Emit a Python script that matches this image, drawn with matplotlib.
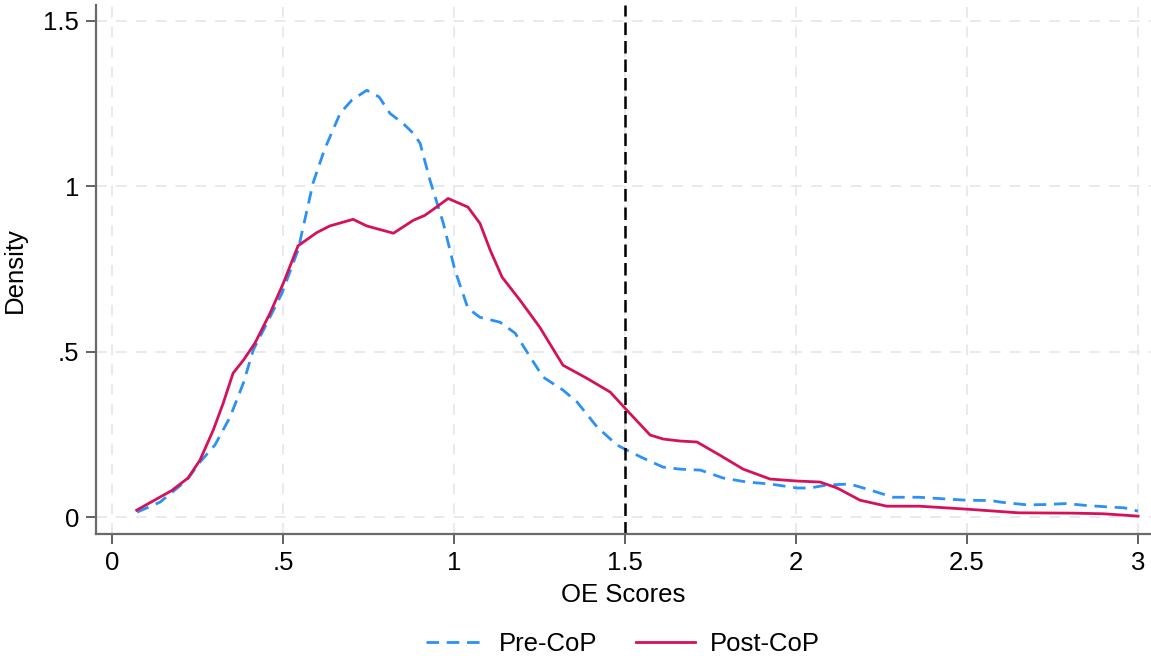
import matplotlib
matplotlib.use("Agg")
import matplotlib.pyplot as plt

plt.rcParams["font.family"] = ["Liberation Sans", "DejaVu Sans"]

# kernel density estimates of OE scores, before and after the CoP
pre_x = [0.072, 0.139, 0.218, 0.256, 0.30, 0.344, 0.383, 0.412, 0.452, 0.496,
         0.543, 0.587, 0.62, 0.666, 0.70, 0.744, 0.78, 0.812, 0.85, 0.88,
         0.90, 0.929, 0.968, 1.002, 1.04, 1.075, 1.134, 1.178, 1.222, 1.26,
         1.318, 1.359, 1.418, 1.476, 1.50, 1.553, 1.611, 1.66, 1.72, 1.787,
         1.856, 1.924, 2.003, 2.04, 2.09, 2.157, 2.216, 2.284, 2.36, 2.42,
         2.5, 2.57, 2.6, 2.675, 2.73, 2.79, 2.85, 2.91, 2.96, 3.0]
pre_y = [0.015, 0.045, 0.112, 0.166, 0.218, 0.302, 0.405, 0.505, 0.586, 0.677,
         0.807, 1.01, 1.11, 1.22, 1.26, 1.29, 1.27, 1.22, 1.19, 1.16,
         1.13, 1.018, 0.888, 0.746, 0.631, 0.604, 0.589, 0.556, 0.484, 0.423,
         0.384, 0.348, 0.272, 0.218, 0.205, 0.178, 0.151, 0.145, 0.142, 0.118,
         0.106, 0.10, 0.088, 0.088, 0.097, 0.10, 0.082, 0.06, 0.06, 0.056,
         0.051, 0.05, 0.045, 0.037, 0.038, 0.041, 0.035, 0.031, 0.028, 0.018]

post_x = [0.071, 0.173, 0.221, 0.256, 0.295, 0.324, 0.353, 0.383, 0.417, 0.461,
          0.50, 0.543, 0.598, 0.636, 0.704, 0.744, 0.822, 0.88, 0.914, 0.948,
          0.982, 1.04, 1.075, 1.105, 1.14, 1.192, 1.25, 1.318, 1.387, 1.456,
          1.505, 1.573, 1.611, 1.66, 1.71, 1.777, 1.845, 1.924, 2.003, 2.07,
          2.12, 2.187, 2.265, 2.36, 2.5, 2.65, 2.81, 2.9, 3.0]
post_y = [0.021, 0.08, 0.118, 0.172, 0.263, 0.344, 0.435, 0.474, 0.526, 0.616,
          0.707, 0.82, 0.86, 0.88, 0.90, 0.88, 0.858, 0.897, 0.912, 0.937,
          0.963, 0.937, 0.888, 0.807, 0.725, 0.656, 0.574, 0.459, 0.42, 0.378,
          0.323, 0.248, 0.236, 0.23, 0.227, 0.187, 0.145, 0.115, 0.109, 0.106,
          0.088, 0.051, 0.033, 0.033, 0.024, 0.013, 0.012, 0.01, 0.003]

cutoff = 1.5
x_ticks = [0, 0.5, 1, 1.5, 2, 2.5, 3]
x_labels = ["0", ".5", "1", "1.5", "2", "2.5", "3"]
y_ticks = [0, 0.5, 1, 1.5]
y_labels = ["0", ".5", "1", "1.5"]

fig = plt.figure(figsize=(11.51, 6.56), dpi=100)
ax = fig.add_axes([0.0834, 0.186, 0.9166, 0.806])

ax.plot(pre_x, pre_y, color="#2b90f7", lw=2.0, linestyle=(0, (4.5, 2.8)),
        dash_joinstyle="round", dash_capstyle="butt", label="Pre-CoP")
ax.plot(post_x, post_y, color="#d41159", lw=2.0, solid_joinstyle="round",
        label="Post-CoP")
ax.axvline(cutoff, color="black", lw=1.8, linestyle=(0, (5, 2.4)))

ax.set_xlim(-0.048, 3.038)
ax.set_ylim(-0.051, 1.547)
ax.set_xticks(x_ticks, x_labels)
ax.set_yticks(y_ticks, y_labels)
ax.tick_params(labelsize=18.5, length=7, width=1.3, color="#555555", pad=5)
ax.grid(True, color="#e8e8e8", lw=1.3, linestyle=(0, (6, 5)))
ax.set_axisbelow(True)

for side in ["top", "right"]:
    ax.spines[side].set_visible(False)
for side in ["left", "bottom"]:
    ax.spines[side].set_color("#6a6a6a")
    ax.spines[side].set_linewidth(1.6)

ax.set_xlabel("OE Scores", fontsize=18.5, labelpad=6)
ax.set_ylabel("Density", fontsize=18.5, labelpad=12)

fig.legend(loc="center", bbox_to_anchor=(0.541, 1 - 644 / 656), ncol=2,
           frameon=False, fontsize=18.5, handlelength=2.3, columnspacing=1.5,
           handletextpad=0.55)

fig.savefig("out.png", dpi=100)
